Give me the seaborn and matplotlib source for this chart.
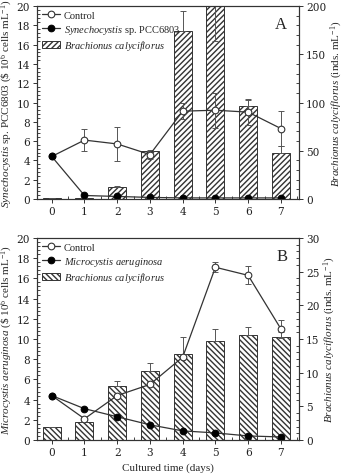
import numpy as np
import pandas as pd
import matplotlib
matplotlib.use("Agg")
import matplotlib.pyplot as plt
import seaborn as sns
from matplotlib.ticker import MultipleLocator

# dati
days = [0, 1, 2, 3, 4, 5, 6, 7]

# pannello A
ctrl_A = [4.4, 6.1, 5.7, 4.6, 9.1, 9.2, 9.0, 7.3]
ctrl_A_err = [0.0, 1.1, 1.8, 0.5, 0.8, 1.8, 1.3, 1.8]
syn_A = [4.4, 0.35, 0.25, 0.15, 0.1, 0.1, 0.1, 0.1]
rot_A = [1, 1, 12, 50, 174, 200, 96, 48]
rot_A_err_lo = [0, 0, 0, 0, 0, 36, 0, 0]
rot_A_err_hi = [0, 0, 1, 0, 21, 0, 8, 7]

# pannello B
ctrl_B = [4.4, 2.1, 4.4, 5.5, 8.2, 17.1, 16.3, 11.0]
ctrl_B_err = [0.0, 0.0, 0.0, 0.0, 0.0, 0.5, 0.9, 0.9]
mic_B = [4.4, 3.1, 2.3, 1.5, 0.9, 0.7, 0.4, 0.3]
rot_B = [2.0, 2.7, 8.0, 10.3, 12.7, 14.7, 15.6, 15.3]
rot_B_err = [0.0, 0.0, 0.7, 1.2, 2.6, 1.8, 1.2, 0.8]

sns.set_style("ticks")
plt.rcParams['font.family'] = ['Liberation Serif', 'DejaVu Serif']
plt.rcParams['mathtext.fontset'] = 'custom'
plt.rcParams['mathtext.rm'] = 'Liberation Serif'
plt.rcParams['mathtext.it'] = 'Liberation Serif:italic'
fs_tick = 7.6
fs_lab = 8.0
fs_leg = 7.5
lc = "#333333"

fig = plt.figure(figsize=(3.41, 4.77), dpi=100)
axA = fig.add_axes([0.1085, 0.581, 0.768, 0.404])
axB = fig.add_axes([0.1085, 0.0755, 0.768, 0.4235])


def pannello(ax, ctrl, ctrl_err, alga, rot, rot_lo, rot_hi, hatch, alga_lab,
             ylab_left, y2max, y2step, lettera):
    ax2 = ax.twinx()
    df_bar = pd.DataFrame({'day': days, 'rot': rot})
    sns.barplot(data=df_bar, x='day', y='rot', ax=ax2, color='white',
                edgecolor=lc, linewidth=0.7, hatch=hatch, width=0.55,
                errorbar=None, label='$\\it{Brachionus\\ calyciflorus}$')
    ax2.errorbar(days, rot, yerr=[rot_lo, rot_hi], fmt='none', ecolor='#555555',
                 elinewidth=0.7, capsize=2.2, capthick=0.7)
    ax2.set_ylim(0, y2max)
    ax2.yaxis.set_major_locator(MultipleLocator(y2step))
    ax2.yaxis.set_minor_locator(MultipleLocator(y2step / 5))
    ax2.set_ylabel('$\\it{Brachionus\\ calyciflorus}$ (inds. mL$^{-1}$)',
                   fontsize=fs_lab, labelpad=2)

    ax.set_zorder(ax2.get_zorder() + 1)
    ax.patch.set_visible(False)

    df_l = pd.DataFrame({'day': days, 'ctrl': ctrl, 'alga': alga})
    ax.errorbar(days, ctrl, yerr=ctrl_err, fmt='none', ecolor='#555555',
                elinewidth=0.7, capsize=2.2, capthick=0.7)
    sns.lineplot(data=df_l, x='day', y='ctrl', ax=ax, color=lc, lw=0.9,
                 marker='o', markersize=4.8, markerfacecolor='white',
                 markeredgecolor=lc, markeredgewidth=0.8, label='Control')
    sns.lineplot(data=df_l, x='day', y='alga', ax=ax, color=lc, lw=0.9,
                 marker='o', markersize=4.8, markerfacecolor='black',
                 markeredgecolor='black', label=alga_lab)

    ax.set_xlim(-0.45, 7.55)
    ax.set_ylim(0, 20)
    ax.yaxis.set_major_locator(MultipleLocator(2))
    ax.yaxis.set_minor_locator(MultipleLocator(0.4))
    ax.xaxis.set_major_locator(MultipleLocator(1))
    ax.xaxis.set_minor_locator(MultipleLocator(0.5))
    ax.set_ylabel(ylab_left, fontsize=fs_lab, labelpad=1)
    ax.set_xlabel('')
    ax2.set_xlabel('')
    for a in (ax, ax2):
        a.tick_params(width=0.7, length=3, colors=lc, labelcolor='#222222',
                      pad=2, direction='out')
        a.tick_params(which='minor', length=2, width=0.6, direction='in')
        for lab in a.get_xticklabels() + a.get_yticklabels():
            lab.set_fontfamily('DejaVu Serif')
            lab.set_fontsize(fs_tick)
        for s in a.spines.values():
            s.set_linewidth(0.8)
            s.set_color(lc)

    h1, l1 = ax.get_legend_handles_labels()
    h2, l2 = ax2.get_legend_handles_labels()
    ax2.legend_ = None
    ax.legend(h1 + h2[:1], l1 + l2[:1], loc='upper left', frameon=False,
              fontsize=fs_leg, handlelength=1.8, handletextpad=0.3,
              labelspacing=0.25, borderaxespad=0.2, borderpad=0.25)
    ax.text(0.955, 0.95, lettera, transform=ax.transAxes, ha='right', va='top',
            fontsize=12)
    return ax2


pannello(axA, ctrl_A, ctrl_A_err, syn_A, rot_A, rot_A_err_lo, rot_A_err_hi, '//////',
         '$\\it{Synechocystis}$ sp. PCC6803',
         '$\\it{Synechocystis}$ sp. PCC6803 (\\$ 10$^6$ cells mL$^{-1}$)',
         200, 50, 'A')
pannello(axB, ctrl_B, ctrl_B_err, mic_B, rot_B, [0] * 8, rot_B_err, '\\\\\\\\\\\\',
         '$\\it{Microcystis\\ aeruginosa}$',
         '$\\it{Microcystis\\ aeruginosa}$ (\\$ 10$^6$ cells mL$^{-1}$)',
         30, 5, 'B')
axB.set_xlabel('Cultured time (days)', fontsize=fs_lab, labelpad=4)

fig.savefig('out.png', dpi=100)
